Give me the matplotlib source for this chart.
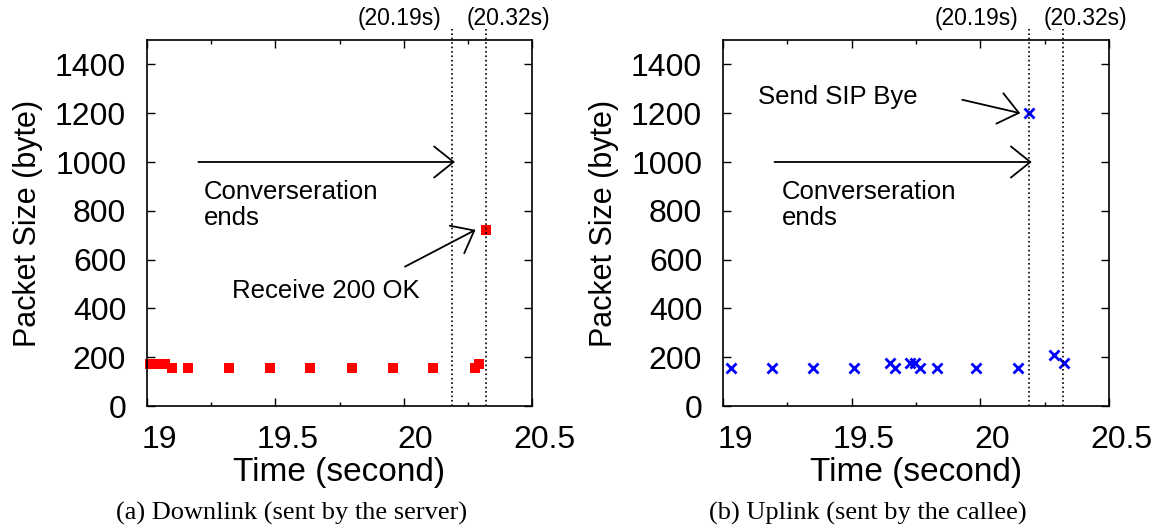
import matplotlib

matplotlib.use("Agg")
import matplotlib.pyplot as plt
from matplotlib.transforms import ScaledTranslation

# downlink packets (sent by the server)
down_t = [19.01, 19.03, 19.05, 19.07, 19.097, 19.16, 19.32, 19.48, 19.635,
          19.80, 19.958, 20.114, 20.278, 20.293, 20.32]
down_size = [173, 173, 173, 173, 157, 157, 157, 157, 157,
             157, 157, 157, 157, 173, 720]

# uplink packets (sent by the callee)
up_t = [19.033, 19.19, 19.35, 19.508, 19.648, 19.67, 19.726, 19.745, 19.767,
        19.83, 19.985, 20.147, 20.19, 20.285, 20.324]
up_size = [157, 157, 157, 157, 175, 157, 175, 175, 157,
           157, 157, 157, 1200, 207, 175]

events = [20.19, 20.32]
event_labels = ["(20.19s)", "(20.32s)"]
xticks = [19, 19.5, 20, 20.5]
xtick_labels = ["19", "19.5", "20", "20.5"]
yticks = [0, 200, 400, 600, 800, 1000, 1200, 1400]
captions = ["(a) Downlink (sent by the server)", "(b) Uplink (sent by the callee)"]

plt.rcParams["font.family"] = ["Liberation Sans", "DejaVu Sans"]

fig = plt.figure(figsize=(11.51, 5.29), dpi=100)
ax1 = fig.add_axes([147 / 1151, 123 / 529, 385 / 1151, 366 / 529])
ax2 = fig.add_axes([723 / 1151, 123 / 529, 386 / 1151, 366 / 529])

ax1.plot(down_t, down_size, "s", color="red", markersize=7, markeredgewidth=0, clip_on=False)
ax2.plot(up_t, up_size, "x", color="blue", markersize=7, markeredgewidth=2, clip_on=False)

arrow = dict(arrowstyle="->,head_length=1.0,head_width=0.8", lw=1.3,
             color="black", shrinkA=0, shrinkB=0, mutation_scale=14)
ann_fs = 18.5

for ax, caption, cap_x in zip((ax1, ax2), captions, (292 / 1151, 868 / 1151)):
    ax.set_xlim(19, 20.5)
    ax.set_ylim(0, 1500)
    for t in events:
        ax.plot([t, t], [0, 1545], ":", color="black", lw=1.2, clip_on=False)
    ax.text(19.985, 1.06, event_labels[0], transform=ax.get_xaxis_transform(),
            ha="center", va="center", fontsize=16.5)
    ax.text(20.41, 1.06, event_labels[1], transform=ax.get_xaxis_transform(),
            ha="center", va="center", fontsize=16.5)
    ax.set_xticks(xticks)
    ax.set_xticklabels(xtick_labels)
    ax.set_xticks([19.25, 19.75, 20.25], minor=True)
    ax.set_yticks(yticks)
    ax.tick_params(direction="in", top=True, right=True, labelsize=23, length=6, width=1,
                   pad=15)
    ax.tick_params(axis="x", pad=14)
    ax.tick_params(which="minor", direction="in", top=True, length=3, width=1)
    for lab in ax.get_xticklabels():
        lab.set_transform(lab.get_transform() + ScaledTranslation(0.12, 0, fig.dpi_scale_trans))
    for s in ax.spines.values():
        s.set_linewidth(1.2)
    ax.set_xlabel("Time (second)", fontsize=24, labelpad=1)
    ax.set_ylabel("Packet Size (byte)", fontsize=22, labelpad=9)
    ax.annotate("", xy=(20.2, 1000), xytext=(19.2, 1000), arrowprops=arrow)
    fig.text(cap_x, 16 / 529, caption, ha="center", va="center",
             fontsize=19, family=["Liberation Serif", "DejaVu Serif"])

ax1.text(19.22, 825, "Converseration\nends", fontsize=ann_fs, ha="left", va="center",
         linespacing=1.1)
ax1.text(19.33, 470, "Receive 200 OK", fontsize=ann_fs, ha="left", va="center")
ax1.annotate("", xy=(20.28, 722), xytext=(20.005, 571), arrowprops=arrow)

ax2.text(19.23, 825, "Converseration\nends", fontsize=ann_fs, ha="left", va="center",
         linespacing=1.1)
ax2.text(19.135, 1265, "Send SIP Bye", fontsize=ann_fs, ha="left", va="center")
ax2.annotate("", xy=(20.155, 1200), xytext=(19.93, 1255), arrowprops=arrow)

fig.savefig("out.png", dpi=100)
